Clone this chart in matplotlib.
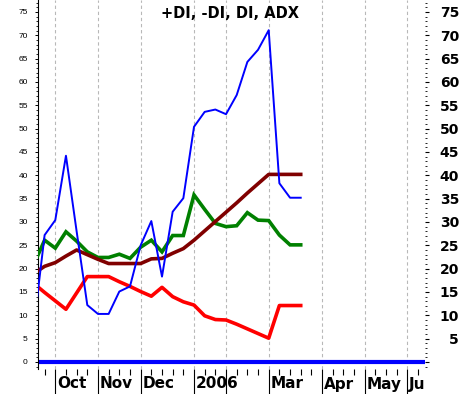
import matplotlib
matplotlib.use('Agg')
import matplotlib.pyplot as plt
from matplotlib.transforms import Bbox, blended_transform_factory
from matplotlib.ticker import MultipleLocator, FixedLocator

# weekly bars, index 0 = first week of October 2005
weeks = list(range(-2, 24))
plus_di = [21.0, 26.1, 24.4, 27.9, 25.9, 23.6, 22.4, 22.4, 23.1, 22.2, 24.6, 26.1, 23.6,
           27.1, 27.1, 35.8, 32.7, 29.7, 29.0, 29.2, 32.0, 30.4, 30.3, 27.2, 25.1, 25.1]
minus_di = [16.8, 14.9, 13.1, 11.3, 14.8, 18.3, 18.3, 18.3, 17.2, 16.2, 15.1, 14.1, 16.0,
            14.0, 12.9, 12.2, 9.9, 9.1, 9.0, 8.1, 7.1, 6.1, 5.1, 12.1, 12.1, 12.1]
di = [8.0, 27.2, 30.4, 44.2, 28.0, 12.2, 10.3, 10.3, 15.1, 16.2, 25.0, 30.2, 18.3,
      32.2, 35.1, 50.4, 53.6, 54.1, 53.1, 57.2, 64.3, 66.9, 71.1, 38.3, 35.2, 35.2]
adx = [19.0, 20.5, 21.3, 22.7, 24.0, 23.0, 22.0, 21.1, 21.1, 21.1, 21.1, 22.1, 22.2,
       23.3, 24.3, 26.1, 28.1, 30.1, 32.1, 34.1, 36.2, 38.2, 40.2, 40.2, 40.2, 40.2]

month_pos = [0, 4, 8, 13, 16, 20, 25, 29, 33]
month_labels = ['Oct', 'Nov', 'Dec', '2006', '', 'Mar', 'Apr', 'May', 'Jun']
title = '+DI, -DI, DI, ADX'

W, H = 462, 394
fig = plt.figure(figsize=(W / 100, H / 100), dpi=100)
fig.patch.set_facecolor('white')
ax = fig.add_axes([38 / W, 25 / H, (424.5 - 38) / W, 369 / H])
ax.set_facecolor('white')

ymin, ymax = -1.5, 77.57
ax.set_ylim(ymin, ymax)
ax.set_xlim(-1.62, 34.6)

# vertical dashed month gridlines
ax.vlines(month_pos, ymin, ymax, colors='#b8b8b8', linestyles=(0, (3, 2.5)),
          linewidth=0.8, zorder=1)
# zero line
ax.axhline(0, color='#0000ff', linewidth=3.0, zorder=2)

ax.plot(weeks, plus_di, color='#008000', linewidth=2.6, zorder=3,
        solid_joinstyle='miter')
ax.plot(weeks, minus_di, color='#ff0000', linewidth=2.6, zorder=3)
ax.plot(weeks, adx, color='#800000', linewidth=2.6, zorder=4)
ax.plot(weeks, di, color='#0000ff', linewidth=1.4, zorder=5)

for s in ['top', 'right', 'bottom']:
    ax.spines[s].set_visible(False)
ax.spines['left'].set_linewidth(0.8)

# left axis
ax.yaxis.set_major_locator(FixedLocator(list(range(0, 80, 5))))
ax.yaxis.set_minor_locator(MultipleLocator(1))
ax.tick_params(axis='y', which='major', length=2.4, width=0.7, pad=5,
               labelsize=6)
ax.tick_params(axis='y', which='minor', length=1.2, width=0.6)
for lab in ax.get_yticklabels():
    lab.set_family('Liberation Sans')

# bottom ticks
ax.xaxis.set_major_locator(FixedLocator(month_pos))
ax.xaxis.set_minor_locator(FixedLocator([w for w in range(-1, 35) if w not in month_pos]))
ax.tick_params(axis='x', which='major', length=18, width=0.8, labelbottom=False)
ax.tick_params(axis='x', which='minor', length=4.3, width=0.8)

trans = blended_transform_factory(ax.transData, fig.transFigure)
clip = Bbox.from_extents(0, 0, 424.5, H)
for p, lab in zip(month_pos, month_labels):
    if not lab:
        continue
    t = ax.text(p + 0.17, 5.5 / H, lab, transform=trans, ha='left', va='baseline',
                fontsize=11, fontweight='bold', family='DejaVu Sans', clip_on=True)
    t.set_clip_box(clip)

# right axis
ax2 = ax.twinx()
ax2.set_ylim(ymin, ymax)
for s in ax2.spines.values():
    s.set_visible(False)
ax2.yaxis.set_major_locator(FixedLocator(list(range(0, 80, 5))))
ax2.yaxis.set_minor_locator(MultipleLocator(1))
ax2.set_yticklabels([''] + [str(v) for v in range(5, 80, 5)])
ax2.tick_params(axis='y', which='major', length=2.9, width=0.8, pad=22,
                labelsize=10)
ax2.tick_params(axis='y', which='minor', length=1.6, width=0.6)
for lab in ax2.get_yticklabels():
    lab.set_fontweight('bold')
    lab.set_family('DejaVu Sans')
    lab.set_horizontalalignment('right')

fig.text(230 / W, 1 - 18.5 / H, title, ha='center', va='baseline', fontsize=10.5,
         fontweight='bold', family='DejaVu Sans')

fig.savefig('out.png', dpi=100)
